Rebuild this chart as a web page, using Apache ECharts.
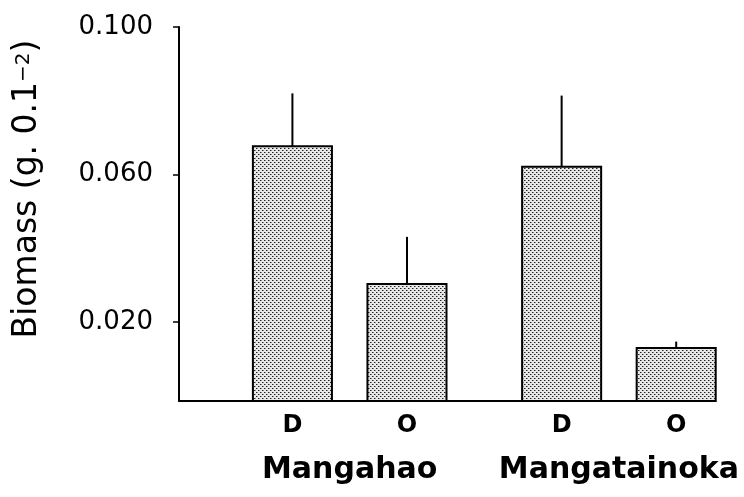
<!DOCTYPE html>
<html>
<head>
<meta charset="utf-8">
<script src="https://cdn.jsdelivr.net/npm/echarts@6/dist/echarts.min.js"></script>
<style>
html,body{margin:0;padding:0;background:#fff;}
#main{width:744px;height:497px;}
</style>
</head>
<body>
<div id="main"></div>
<script>
// ---- data ----
const categories = ['D', 'O', 'D', 'O'];
const groups = ['Mangahao', 'Mangatainoka'];
const means = [0.0677, 0.0303, 0.0621, 0.0130];
const errors = [0.0143, 0.0128, 0.0193, 0.0017];
const yTickValues = [0.020, 0.060, 0.100];

// ---- layout constants ----
const groupGap = 0.35;
const barWidthUnits = 0.69;
const yMin = -0.0014, yMax = 0.100;
const FONT = 'DejaVu Sans';

// stipple pattern
const pc = document.createElement('canvas');
pc.width = 4; pc.height = 4;
const pctx = pc.getContext('2d');
pctx.fillStyle = '#e8e8e8'; pctx.fillRect(0, 0, 4, 4);
pctx.fillStyle = '#222'; pctx.fillRect(0, 0, 1, 1); pctx.fillRect(2, 2, 1, 1);
pctx.fillStyle = '#888'; pctx.fillRect(1, 0, 1, 1); pctx.fillRect(3, 2, 1, 1);
const pattern = { image: pc, repeat: 'repeat' };

const data = categories.map((c, i) => {
  const g = Math.floor(i / 2);
  return [i + g * groupGap, means[i], means[i] + errors[i], i];
});

const chart = echarts.init(document.getElementById('main'));
chart.setOption({
  animation: false,
  grid: { left: 179, right: 30, top: 27, bottom: 96 },
  xAxis: {
    type: 'value', min: -0.99, max: 3.68,
    axisLine: { show: true, onZero: false, lineStyle: { color: '#000', width: 2 } },
    axisTick: { show: false }, axisLabel: { show: false }, splitLine: { show: false }
  },
  yAxis: {
    type: 'value', min: yMin, max: yMax,
    axisLine: { show: true, onZero: false, lineStyle: { color: '#000', width: 2 } },
    axisTick: { show: true, customValues: yTickValues, length: 6, lineStyle: { color: '#000', width: 1.5 } },
    axisLabel: {
      customValues: yTickValues, margin: 26,
      formatter: v => v.toFixed(3),
      fontFamily: FONT, fontSize: 26, color: '#000'
    },
    splitLine: { show: false }
  },
  graphic: [{
    type: 'text',
    x: 27, y: 189,
    rotation: Math.PI / 2,
    style: {
      x: 0, y: 0,
      text: '{a|Biomass (g. 0.1}{s|−2}{a|)}',
      align: 'center', verticalAlign: 'middle',
      rich: {
        a: { fontFamily: FONT, fontSize: 33, fill: '#000', verticalAlign: 'middle' },
        s: { fontFamily: FONT, fontSize: 20, fill: '#000', verticalAlign: 'middle', padding: [0, 0, 6, 0] }
      }
    }
  }],
  series: [{
    type: 'custom',
    clip: false,
    data: data,
    renderItem: function (params, api) {
      const x = api.value(0), v = api.value(1), e = api.value(2), idx = api.value(3);
      const top = api.coord([x, v]);
      const base = api.coord([x, yMin]);
      const et = api.coord([x, e]);
      const w = api.size([barWidthUnits, 0])[0];
      const children = [
        { type: 'line', shape: { x1: top[0], y1: top[1], x2: top[0], y2: et[1] }, style: { stroke: '#000', lineWidth: 2 } },
        { type: 'rect', shape: { x: top[0] - w / 2, y: top[1], width: w, height: base[1] - top[1] },
          style: { fill: pattern, stroke: '#000', lineWidth: 2 } },
        { type: 'text', style: { text: categories[idx], x: top[0], y: base[1] + 25, align: 'center', verticalAlign: 'middle',
          font: 'bold 24px "' + FONT + '"', fill: '#000' } }
      ];
      if (idx % 2 === 0) {
        const next = api.coord([x + 1, v]);
        children.push({ type: 'text', style: { text: groups[idx / 2], x: (top[0] + next[0]) / 2, y: base[1] + 69,
          align: 'center', verticalAlign: 'middle', font: 'bold 30px "' + FONT + '"', fill: '#000' } });
      }
      return { type: 'group', children: children };
    }
  }]
});
</script>
</body>
</html>
